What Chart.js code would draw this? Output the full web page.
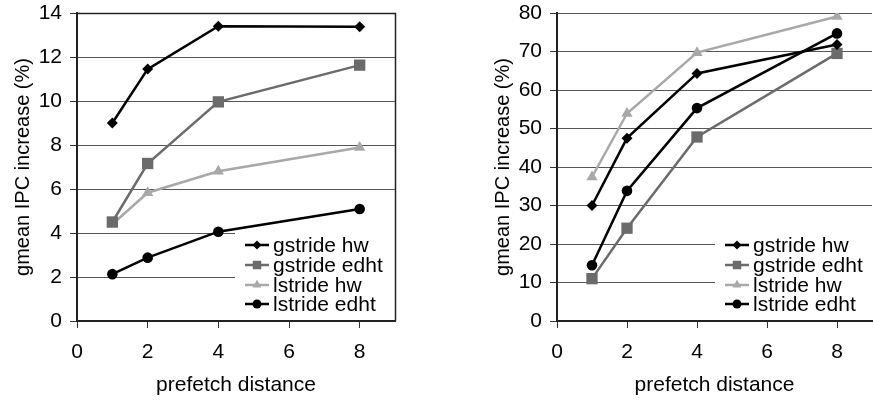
<!DOCTYPE html>
<html><head><meta charset="utf-8">
<script src="https://cdn.jsdelivr.net/npm/chart.js@4.4.1/dist/chart.umd.min.js"></script>
<style>
html,body{margin:0;padding:0;background:#fff;overflow:hidden;width:873px;height:402px;}
#l{position:absolute;left:0;top:0;width:440px;height:402px;}
#r{position:absolute;left:440px;top:0;width:440px;height:402px;}
</style></head><body>
<div id="l"><canvas id="c1"></canvas></div>
<div id="r"><canvas id="c2"></canvas></div>
<script>
// ---- data ----
const distances = [1, 2, 4, 8];
const seriesNames = ['gstride hw', 'gstride edht', 'lstride hw', 'lstride edht'];
const xTickValues = [0, 2, 4, 6, 8];
const leftYTicks = [0, 2, 4, 6, 8, 10, 12, 14];
const rightYTicks = [0, 10, 20, 30, 40, 50, 60, 70, 80];
const leftGstrideHw   = [9.0, 11.45, 13.4, 13.37];
const leftGstrideEdht = [4.5, 7.16, 9.96, 11.63];
const leftLstrideHw   = [4.4, 5.83, 6.81, 7.89];
const leftLstrideEdht = [2.13, 2.88, 4.06, 5.09];
const rightGstrideHw   = [30.0, 47.5, 64.3, 71.8];
const rightGstrideEdht = [11.0, 24.1, 47.8, 69.5];
const rightLstrideHw   = [37.4, 53.9, 69.7, 79.1];
const rightLstrideEdht = [14.5, 33.8, 55.3, 74.7];
const xTitle = 'prefetch distance';
const yTitle = 'gmean IPC increase (%)';

// ---- styles ----
const styles = [
  {color:'#000000', pointStyle:'rectRot', r:5.5, lr:4.5},
  {color:'#6b6b6b', pointStyle:'rect', r:8, lr:6},
  {color:'#a8a8a8', pointStyle:'triangle', r:6.5, lr:5.2},
  {color:'#000000', pointStyle:'circle', r:5.3, lr:4.5}
];
const FONT = "'Liberation Sans', Arial, sans-serif";
Chart.defaults.font.family = FONT;
Chart.defaults.color = '#000';

const insideLegend = {
  id: 'insideLegend',
  beforeDatasetsDraw(chart) {
    const {ctx, chartArea: a} = chart;
    const x0 = a.left + 158;
    const top = a.bottom - 91;
    ctx.save();
    ctx.fillStyle = '#fff';
    ctx.fillRect(x0, top, a.right - x0, a.bottom - top - 1);
    ctx.font = '21px ' + FONT;
    ctx.textBaseline = 'middle';
    ctx.textAlign = 'left';
    const offs = [76, 56, 36, 17];
    chart.data.datasets.forEach((ds, i) => {
      const cy = a.bottom - offs[i];
      const st = styles[i];
      ctx.strokeStyle = st.color;
      ctx.lineWidth = 2.5;
      ctx.beginPath();
      ctx.moveTo(a.left + 168, cy);
      ctx.lineTo(a.left + 192, cy);
      ctx.stroke();
      ctx.fillStyle = st.color;
      Chart.helpers.drawPoint(ctx, {pointStyle: st.pointStyle, radius: st.lr, rotation: 0, borderWidth: 0}, a.left + 180, cy);
      ctx.fillStyle = '#000';
      ctx.fillText(ds.label, a.left + 196, cy + 1);
    });
    ctx.restore();
  },
  afterDraw(chart, args, opts) {
    if (!opts.border) return;
    const {ctx, chartArea: a} = chart;
    ctx.save();
    ctx.strokeStyle = '#222';
    ctx.lineWidth = 1.5;
    ctx.beginPath();
    ctx.moveTo(a.left, Math.round(a.top) + 0.5);
    ctx.lineTo(Math.round(a.right) + 0.5, Math.round(a.top) + 0.5);
    ctx.lineTo(Math.round(a.right) + 0.5, a.bottom);
    ctx.stroke();
    ctx.restore();
  }
};

function makeChart(id, series, yTicks, yMax, pad, border) {
  const datasets = series.map((vals, i) => ({
    label: seriesNames[i],
    data: distances.map((d, k) => ({x: d, y: vals[k]})),
    borderColor: styles[i].color,
    backgroundColor: styles[i].color,
    pointBackgroundColor: styles[i].color,
    pointBorderColor: styles[i].color,
    pointBorderWidth: 0,
    pointStyle: styles[i].pointStyle,
    pointRadius: styles[i].r,
    borderWidth: 2.5,
    tension: 0
  }));
  return new Chart(document.getElementById(id), {
    type: 'line',
    data: {datasets},
    plugins: [insideLegend],
    options: {
      responsive: true, maintainAspectRatio: false, animation: false, devicePixelRatio: 1,
      layout: {padding: pad},
      plugins: {legend: {display: false}, tooltip: {enabled: false}, insideLegend: {border}},
      scales: {
        x: {
          type: 'linear', min: 0, max: 9,
          afterBuildTicks: s => { s.ticks = xTickValues.map(v => ({value: v})); },
          afterFit: s => { s.height = 81; s.paddingLeft = 0; s.paddingRight = 0; },
          grid: {drawOnChartArea: false, drawTicks: true, tickLength: 7, tickColor: '#333'},
          border: {display: true, color: '#222', width: 2},
          ticks: {font: {size: 21}, padding: 12, color: '#000', maxRotation: 0},
          title: {display: true, text: xTitle, font: {size: 21}, padding: {top: 0, bottom: 4}, color: '#000'}
        },
        y: {
          type: 'linear', min: 0, max: yMax,
          afterBuildTicks: s => { s.ticks = yTicks.map(v => ({value: v})); },
          afterFit: s => { s.width = 77; s.paddingTop = 0; s.paddingBottom = 0; },
          grid: {color: '#555', lineWidth: 1, drawTicks: true, tickLength: 7, tickColor: '#333'},
          border: {display: true, color: '#222', width: 2},
          ticks: {font: {size: 21}, padding: 8, color: '#000'},
          title: {display: true, text: yTitle, font: {size: 20}, padding: {top: 11, bottom: 0}, color: '#000'}
        }
      }
    }
  });
}

makeChart('c1', [leftGstrideHw, leftGstrideEdht, leftLstrideHw, leftLstrideEdht], leftYTicks, 14,
  {left: 0, right: 45, top: 13, bottom: 0}, true);
makeChart('c2', [rightGstrideHw, rightGstrideEdht, rightLstrideHw, rightLstrideEdht], rightYTicks, 80,
  {left: 40, right: 5, top: 13, bottom: 0}, false);
</script>
</body></html>
